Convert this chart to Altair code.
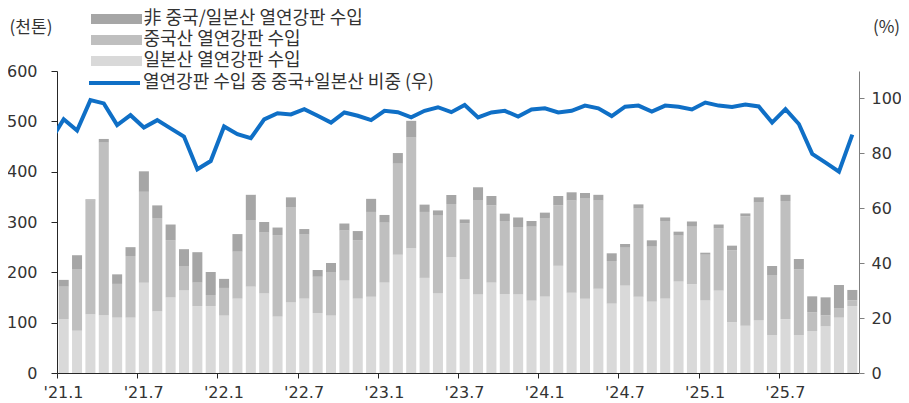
import altair as alt
import pandas as pd

# ---- data (thousand tonnes / %) ----
years = [21, 22, 23, 24, 25]
months = [f"'{y}.{m}" for y in years for m in range(1, 13)]

japan = [107, 84, 116, 114, 110, 110, 179.5, 122, 150, 164, 133, 133,
         114, 147.7, 171.5, 158, 112, 140, 147.7, 119, 114, 183.5, 147.7, 151.7,
         179.5, 235, 248, 189, 158, 230, 186.8, 156, 179.5, 157, 156, 143.7,
         151.7, 213, 159.6, 147.7, 167.6, 137.8, 173.5, 151.7, 141.7, 147.7, 181.5, 176,
         144, 163.6, 101, 94, 105, 75, 106.6, 75, 83.4, 92.7, 110, 133]

china = [64.5, 122.6, 227, 343.6, 67, 122.5, 180.5, 186, 114, 48.6, 46.5, 22,
         55, 93.3, 132.5, 121, 162, 188.5, 127.3, 72, 86.7, 99.5, 116.3, 168.3,
         119.2, 181, 219.6, 131, 154.6, 105.8, 110.2, 187.7, 153.5, 145, 134, 147,
         156.3, 120, 183.4, 200, 174.8, 84.7, 75.5, 174.8, 109.3, 154.3, 91.4, 114.7,
         91, 123.4, 143, 217, 234, 119.7, 235.1, 131, 37.1, 21.9, 19, 11.4]

other = [13.5, 27.4, 2, 7.4, 19, 17.5, 40.7, 25, 31, 33.4, 60.5, 45.7,
         18, 35, 50, 21, 15, 20.5, 11, 13.6, 17.9, 14, 18, 26,
         15.3, 21, 33.4, 14.5, 10.4, 17.9, 8, 25.3, 18.7, 14.6, 19, 11.3,
         10.6, 18.7, 16, 9.9, 11.6, 15.3, 7.3, 8.5, 12.6, 7, 7.9, 10.3,
         4, 8, 9, 6, 10, 17.9, 12.3, 20.5, 31.8, 35.7, 45.8, 20.6]

share_dec2020 = 84.5  # previous month, only its segment edge shows
share = [92.4, 88.3, 99.4, 98.2, 90.3, 93.9, 89.4, 92.1, 89.1, 86.1, 74.2, 77.2,
         89.8, 87.0, 85.5, 92.4, 94.6, 94.2, 96.1, 93.7, 91.2, 94.9, 93.7, 92.1,
         95.5, 95.0, 93.1, 95.5, 96.8, 95.0, 97.6, 93.1, 94.9, 95.5, 93.4, 96.0,
         96.4, 94.9, 95.5, 97.4, 96.4, 93.6, 97.0, 97.4, 95.2, 97.4, 97.0, 96.0,
         98.5, 97.4, 96.9, 97.8, 97.1, 91.2, 96.1, 90.7, 79.8, 76.6, 73.3, 86.8]

S_OTHER = "非 중국/일본산 열연강판 수입"
S_CHINA = "중국산 열연강판 수입"
S_JAPAN = "일본산 열연강판 수입"
S_LINE = "열연강판 수입 중 중국+일본산 비중 (우)"

# ---- tables ----
rows = []
for i in range(len(months)):
    base = 0.0
    for name, vals in ((S_JAPAN, japan), (S_CHINA, china), (S_OTHER, other)):
        v = vals[i]
        rows.append({"month": months[i], "x0": i + 0.125, "x1": i + 0.875,
                     "y0": base, "y1": base + v, "series": name})
        base += v
bar_df = pd.DataFrame(rows)

line_df = pd.DataFrame({
    "xc": [-0.5] + [i + 0.5 for i in range(len(months))],
    "share": [share_dec2020] + share,
    "name": [S_LINE] * (len(months) + 1),
})

FONT = "Noto Sans CJK KR"
NUMFONT = "DejaVu Sans"
TXT = "#333333"

xscale = alt.Scale(domain=[0, 60], nice=False, zero=False)
xaxis = alt.Axis(values=list(range(0, 60, 6)),
                 labelExpr="\"'\" + (21 + floor(datum.value / 12)) + '.' + (datum.value % 12 + 1)",
                 title=None, grid=False, tickSize=5, labelPadding=6, labelOffset=6,
                 labelFlush=False, domainColor="#262626", tickColor="#262626",
                 labelFont=NUMFONT, labelFontSize=16, labelColor=TXT)

left_axis = alt.Axis(values=[0, 100, 200, 300, 400, 500, 600], grid=False,
                     tickSize=6, labelPadding=14, domainColor="#262626",
                     tickColor="#262626", labelFont=NUMFONT, labelFontSize=16,
                     labelColor=TXT, title="(천톤)", titleAngle=0, titleX=-26.5,
                     titleY=-44, titleAlign="center", titleBaseline="middle",
                     titleFont=FONT, titleFontSize=17, titleFontWeight="normal",
                     titleColor=TXT)

right_axis = alt.Axis(orient="right", values=[0, 20, 40, 60, 80, 100], grid=False,
                      tickSize=5, labelPadding=7, domainColor="#7f7f7f",
                      tickColor="#7f7f7f", labelFont=NUMFONT, labelFontSize=16,
                      labelColor=TXT, title="(%)", titleAngle=0, titleX=27,
                      titleY=-44, titleAlign="center", titleBaseline="middle",
                      titleFont=FONT, titleFontSize=17, titleFontWeight="normal",
                      titleColor=TXT)

bars = alt.Chart(bar_df).mark_bar().encode(
    x=alt.X("x0:Q", scale=xscale, axis=xaxis),
    x2="x1:Q",
    y=alt.Y("y0:Q", scale=alt.Scale(domain=[0, 600], nice=False), axis=left_axis),
    y2="y1:Q",
    color=alt.Color("series:N",
                    scale=alt.Scale(domain=[S_OTHER, S_CHINA, S_JAPAN],
                                    range=["#A6A6A6", "#BFBFBF", "#D9D9D9"]),
                    legend=alt.Legend(orient="none", legendX=50.5, legendY=-61,
                                      title=None, direction="vertical",
                                      symbolType="M-5.1,-1L5.1,-1L5.1,1L-5.1,1Z",
                                      symbolSize=100, symbolStrokeWidth=0,
                                      labelOffset=18, rowPadding=3,
                                      labelFont=FONT, labelFontSize=18,
                                      labelColor=TXT, labelLimit=500)),
)

line = alt.Chart(line_df).mark_line(clip=True, strokeWidth=4, color="#0F6FC6").encode(
    x=alt.X("xc:Q", scale=xscale, axis=xaxis),
    y=alt.Y("share:Q", scale=alt.Scale(domain=[0, 110], nice=False), axis=right_axis),
    stroke=alt.Stroke("name:N", scale=alt.Scale(domain=[S_LINE], range=["#0F6FC6"]),
                      legend=alt.Legend(orient="none", legendX=48.5, legendY=3,
                                        title=None, symbolType="M-5.1,0L5.1,0",
                                        symbolSize=100, symbolStrokeWidth=4,
                                        labelOffset=19.5, labelFont=FONT,
                                        labelFontSize=18, labelColor=TXT,
                                        labelLimit=500)),
)

chart = alt.layer(bars, line).resolve_scale(y="independent", color="independent").properties(
    width=802, height=302,
    padding={"left": 49, "top": 63, "right": 42, "bottom": 30},
    autosize=alt.AutoSizeParams(type="none"),
).configure_view(stroke=None)

chart.save("out.html", embed_options={"renderer": "svg", "actions": False})
